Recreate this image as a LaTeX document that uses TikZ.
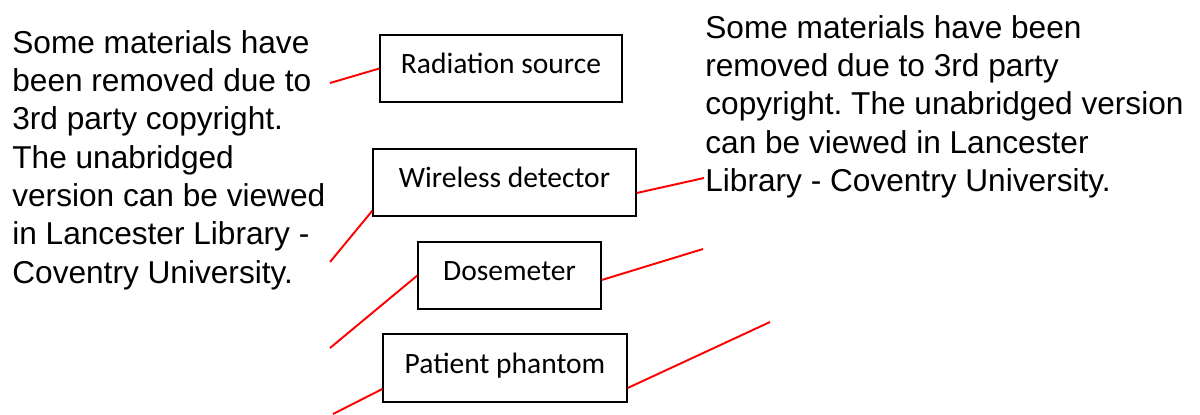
\documentclass[tikz,border=0pt]{standalone}
\usepackage{fontspec}
\setmainfont{Liberation Sans}
\newfontfamily\boxfont{Carlito}
\frenchspacing
\begin{document}
\begin{tikzpicture}[x=0.02cm,y=-0.02cm,
    part/.style={draw,line width=0.8pt,inner sep=0pt,minimum height=1.34cm,
      font=\boxfont\fontsize{16.8}{20}\selectfont,text height=10.8pt,text depth=4.8pt},
    notice/.style={anchor=north west,inner sep=0pt,align=left,
      font=\fontsize{18}{21.8}\selectfont},
    lead/.style={red,line width=1.1pt}]
      \useasboundingbox (0,0) rectangle (1200,414);
      % boxes
      \node [part,minimum width=4.84cm] (src)  at (501,68.5)  {Radiation source};
      \node [part,minimum width=5.26cm] (det)  at (504.5,182.5) {Wireless detector};
      \node [part,minimum width=3.66cm] (dose) at (509.5,275.5) {Dosemeter};
      \node [part,minimum width=4.88cm,minimum height=1.36cm] (phan) at (505,368) {Patient phantom};
      % notices
      \node [notice] (lnote) at (12,30) {Some materials have\\been removed due to\\3rd party copyright.\\The unabridged\\version can be viewed\\in Lancester Library -\\Coventry University.};
      \node [notice] (rnote) at (705,15) {Some materials have been\\removed due to 3rd party\\copyright. The unabridged version\\can be viewed in Lancester\\Library - Coventry University.};
      % loose ends of the leads
      \coordinate (a1) at (330,83);
      \coordinate (a2) at (330,262);
      \coordinate (a3) at (704,178);
      \coordinate (a4) at (330,348);
      \coordinate (a5) at (703,249);
      \coordinate (a6) at (333,414);
      \coordinate (a7) at (770,322);
      \draw [lead] (src.west) -- (a1);
      \draw [lead] ([yshift=0.12cm]det.south west) -- (a2);
      \draw [lead] ([yshift=-0.21cm]det.east) -- (a3);
      \draw [lead] (dose.west) -- (a4);
      \draw [lead] ([yshift=-0.09cm]dose.east) -- (a5);
      \draw [lead] ([yshift=-0.42cm]phan.west) -- (a6);
      \draw [lead] ([yshift=-0.4cm]phan.east) -- (a7);
    \end{tikzpicture}
\end{document}
